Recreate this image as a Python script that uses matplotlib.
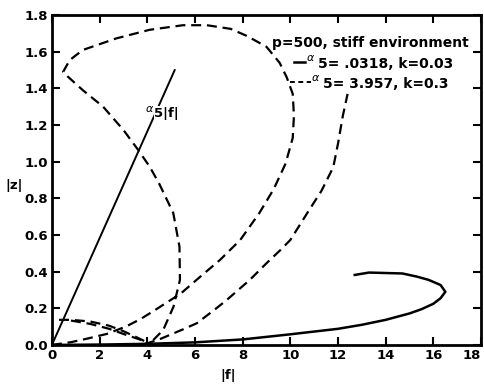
import matplotlib
matplotlib.use("Agg")
import matplotlib.pyplot as plt

# ---- data ----
line_f = [0.0, 5.15]
line_z = [0.0, 1.50]

solid_f = [0.0, 2.0, 4.0, 6.0, 8.0, 10.0, 12.0, 13.0, 14.0, 15.0, 15.5, 16.0, 16.3, 16.5,
           16.3, 15.8, 15.3, 14.7, 13.3, 12.7]
solid_z = [0.0, 0.002, 0.006, 0.014, 0.03, 0.058, 0.088, 0.11, 0.137, 0.172, 0.195, 0.225,
           0.255, 0.29, 0.327, 0.355, 0.373, 0.39, 0.395, 0.382]

loop_f = [0.0, 0.8, 1.5, 2.3, 3.1, 3.7, 4.2, 4.8, 5.4, 6.2, 7.05, 7.9, 8.7, 9.3, 9.8, 10.1,
          10.15, 10.1, 9.85, 9.55, 9.0, 8.2, 7.5, 6.5, 5.5, 4.1, 2.7, 1.3, 0.75, 0.47, 0.62,
          1.3, 2.15, 3.0, 3.62, 4.1, 4.5, 5.09, 5.35, 5.37, 5.1, 4.67, 4.2, 3.9]
loop_z = [0.0, 0.015, 0.035, 0.06, 0.1, 0.14, 0.18, 0.23, 0.28, 0.37, 0.464, 0.573, 0.72,
          0.85, 0.99, 1.13, 1.25, 1.37, 1.46, 1.54, 1.627, 1.685, 1.725, 1.745, 1.745, 1.72,
          1.673, 1.61, 1.555, 1.49, 1.47, 1.39, 1.3, 1.173, 1.064, 0.973, 0.88, 0.72, 0.536,
          0.355, 0.209, 0.082, 0.02, 0.005]

c_f = [3.9, 4.5, 4.95, 5.5, 6.07, 6.8, 7.33, 8.3, 9.0, 9.6, 10.0, 10.7, 11.3, 11.8, 12.0,
       12.2, 12.4]
c_z = [0.005, 0.03, 0.055, 0.085, 0.118, 0.19, 0.245, 0.355, 0.446, 0.52, 0.573, 0.718,
       0.84, 0.97, 1.1, 1.25, 1.37]

a1_f = [0.3, 0.8, 1.6, 2.4, 3.0, 3.5, 3.9]
a1_z = [0.137, 0.137, 0.128, 0.105, 0.075, 0.045, 0.02]
a2_f = [0.8, 1.6, 2.4, 3.0, 3.5, 4.0]
a2_z = [0.133, 0.115, 0.088, 0.06, 0.038, 0.015]

xticks = [0, 2, 4, 6, 8, 10, 12, 14, 16, 18]
yticks = [0.0, 0.2, 0.4, 0.6, 0.8, 1.0, 1.2, 1.4, 1.6, 1.8]

# ---- figure ----
fig = plt.figure(figsize=(4.85, 3.88), dpi=100)
ax = fig.add_axes([0.107, 0.111, 0.885, 0.850])

dash = (0, (4.5, 2.6))
lw = 1.6
ax.plot(line_f, line_z, color="black", lw=1.4)
ax.plot(solid_f, solid_z, color="black", lw=1.8)
for fx, zy in [(loop_f, loop_z), (c_f, c_z), (a1_f, a1_z), (a2_f, a2_z)]:
    ax.plot(fx, zy, color="black", lw=lw, linestyle=dash)

ax.set_xlim(0, 18)
ax.set_ylim(0, 1.8)
ax.set_xticks(xticks)
ax.set_yticks(yticks)
ax.set_xticklabels([str(t) for t in xticks])
ax.set_yticklabels([f"{t:.1f}" for t in yticks])
for s in ax.spines.values():
    s.set_linewidth(2.0)
ax.tick_params(direction="in", length=6, width=1.5, top=True, right=True,
               labelsize=9.5, pad=3)
for lab in ax.get_xticklabels() + ax.get_yticklabels():
    lab.set_fontweight("bold")
# keep the last x label inside the picture
ax.get_xticklabels()[-1].set_horizontalalignment("right")

fig.text(228 / 485, 1 - 375 / 388, "|f|", ha="center", va="center",
         fontsize=9.5, fontweight="bold")
fig.text(14 / 485, 1 - 185 / 388, "|z|", ha="center", va="center",
         fontsize=9.5, fontweight="bold")

# label on the alpha|f| line
ax.text(3.9, 1.29, r"$\alpha$", fontsize=8, fontweight="bold", va="center", ha="left",
        bbox=dict(facecolor="white", edgecolor="none", pad=0.5))
ax.text(4.3, 1.265, "5|f|", fontsize=9.5, fontweight="bold", va="center", ha="left",
        bbox=dict(facecolor="white", edgecolor="none", pad=0.5))

# legend-like annotation
tx = ax.transAxes
ax.text(0.512, 0.917, "p=500, stiff environment", transform=tx, fontsize=10,
        fontweight="bold", va="center", ha="left")
ax.plot([0.563, 0.59], [0.858, 0.858], transform=tx, color="black", lw=1.8)
ax.plot([0.555, 0.603], [0.797, 0.797], transform=tx, color="black", lw=1.4,
        linestyle=(0, (2.5, 1.8)))
ax.text(0.592, 0.870, r"$\alpha$", transform=tx, fontsize=8, va="center", ha="left")
ax.text(0.620, 0.851, "5= .0318, k=0.03", transform=tx, fontsize=10,
        fontweight="bold", va="center", ha="left")
ax.text(0.603, 0.809, r"$\alpha$", transform=tx, fontsize=8, va="center", ha="left")
ax.text(0.631, 0.790, "5= 3.957, k=0.3", transform=tx, fontsize=10,
        fontweight="bold", va="center", ha="left")

fig.savefig("out.png", dpi=100)
